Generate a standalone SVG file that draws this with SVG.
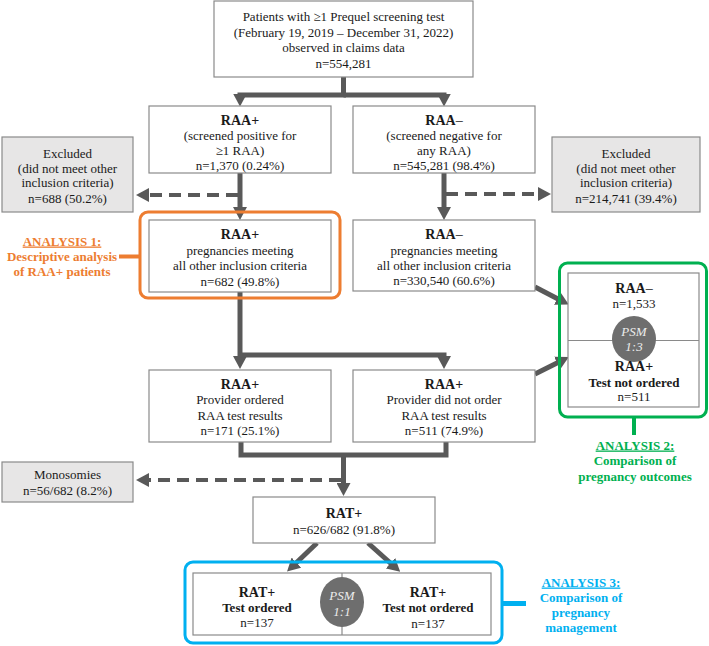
<svg xmlns="http://www.w3.org/2000/svg" width="709" height="646" viewBox="0 0 709 646">
<defs>
<style>
.box{fill:#fff;stroke:#8a8a8a;stroke-width:1.2}
.ex{fill:#e7e6e6;stroke:#8a8a8a;stroke-width:1.2}
text{font-family:"Liberation Serif","Times New Roman",serif;font-size:13px;fill:#1a1a1a;text-anchor:middle}
.t{font-size:14px;font-weight:bold}
.b{font-weight:bold}
.n{font-weight:normal}
.c{fill:none;stroke:#595959;stroke-width:5;stroke-linejoin:miter}
.d{fill:none;stroke:#595959;stroke-width:4;stroke-dasharray:12 7}
.psm{fill:#6e6e6e}
.pt{fill:#ececec;font-style:italic}
.or{fill:#ed7d31;font-weight:bold}
.gr{fill:#00b050;font-weight:bold}
.bl{fill:#00b0f0;font-weight:bold}
.u{text-decoration:underline}
</style>
<marker id="ah" viewBox="0 0 13 14" refX="2" refY="7" markerWidth="13" markerHeight="14" markerUnits="userSpaceOnUse" orient="auto">
<path d="M0,0 L13,7 L0,14 z" fill="#595959"/>
</marker>
</defs>

<g id="connectors">
<path class="c" d="M343.5,77 V95 H240 V95.5" marker-end="url(#ah)"/>
<path class="c" d="M343.5,95 H444 V95.5" marker-end="url(#ah)"/>
<path class="c" d="M240,173 V209" marker-end="url(#ah)"/>
<path class="c" d="M444,173 V209" marker-end="url(#ah)"/>
<path class="d" d="M238,195 H147" marker-end="url(#ah)"/>
<path class="d" d="M446,194 H540" marker-end="url(#ah)"/>
<path class="c" d="M240,292 V358" marker-end="url(#ah)"/>
<path class="c" d="M240,355 H444 V358" marker-end="url(#ah)"/>
<path class="c" d="M535,287 L559,299.5" marker-end="url(#ah)"/>
<path class="c" d="M535,374 L559,362" marker-end="url(#ah)"/>
<path class="c" d="M241,442 V455 H446 V442"/>
<path class="c" d="M343.5,455 V485" marker-end="url(#ah)"/>
<path class="d" d="M341,480 H147" marker-end="url(#ah)"/>
<path class="c" d="M317,543 L295,564" marker-end="url(#ah)"/>
<path class="c" d="M368,543 L392,564.5" marker-end="url(#ah)"/>
</g>

<g id="n-top">
<rect class="box" x="214" y="1" width="259" height="76"/>
<text x="343.5" y="20.5">Patients with ≥1 Prequel screening test</text>
<text x="343.5" y="36.5">(February 19, 2019 – December 31, 2022)</text>
<text x="343.5" y="52">observed in claims data</text>
<text x="343.5" y="67.5">n=554,281</text>
</g>

<g id="n-raapos">
<rect class="box" x="149" y="106" width="182" height="67"/>
<text class="t" x="240" y="125">RAA+</text>
<text x="240" y="139.5">(screened positive for</text>
<text x="240" y="154.5">≥1 RAA)</text>
<text x="240" y="169.5">n=1,370 (0.24%)</text>
</g>

<g id="n-raaneg">
<rect class="box" x="353" y="106" width="182" height="67"/>
<text class="t" x="444" y="125">RAA<tspan class="n">–</tspan></text>
<text x="444" y="139.5">(screened negative for</text>
<text x="444" y="154.5">any RAA)</text>
<text x="444" y="169.5">n=545,281 (98.4%)</text>
</g>

<g id="n-excl-left">
<rect class="ex" x="2" y="137" width="131" height="75"/>
<text x="67.5" y="157.5">Excluded</text>
<text x="67.5" y="172.5">(did not meet other</text>
<text x="67.5" y="187">inclusion criteria)</text>
<text x="67.5" y="202.5">n=688 (50.2%)</text>
</g>

<g id="n-excl-right">
<rect class="ex" x="552" y="137" width="148" height="75"/>
<text x="626" y="157.5">Excluded</text>
<text x="626" y="172.5">(did not meet other</text>
<text x="626" y="187">inclusion criteria)</text>
<text x="626" y="202.5">n=214,741 (39.4%)</text>
</g>

<g id="analysis1">
<rect x="140" y="212" width="200" height="86" rx="8" fill="none" stroke="#ed7d31" stroke-width="3"/>
<path d="M119,256.5 H140" stroke="#ed7d31" stroke-width="4"/>
<text class="or u" x="62" y="245.5">ANALYSIS 1:</text>
<text class="or" x="62" y="260.5">Descriptive analysis</text>
<text class="or" x="62" y="275.5">of RAA+ patients</text>
</g>

<g id="n-raapos-preg">
<rect class="box" x="149" y="220" width="182" height="72"/>
<text class="t" x="240" y="239">RAA+</text>
<text x="240" y="254.5">pregnancies meeting</text>
<text x="240" y="269.5">all other inclusion criteria</text>
<text x="240" y="285.5">n=682 (49.8%)</text>
</g>

<g id="n-raaneg-preg">
<rect class="box" x="353" y="220" width="182" height="71"/>
<text class="t" x="444" y="239">RAA<tspan class="n">–</tspan></text>
<text x="444" y="254.5">pregnancies meeting</text>
<text x="444" y="269.5">all other inclusion criteria</text>
<text x="444" y="285">n=330,540 (60.6%)</text>
</g>

<g id="analysis2">
<rect x="559.5" y="263" width="147" height="154" rx="8" fill="none" stroke="#00b050" stroke-width="3"/>
<rect class="box" x="568" y="273" width="131" height="134"/>
<path d="M568,340.5 H699" stroke="#8a8a8a" stroke-width="1.2"/>
<text class="t" x="634" y="293">RAA<tspan class="n">–</tspan></text>
<text x="634" y="307.5">n=1,533</text>
<ellipse class="psm" cx="634" cy="339" rx="22" ry="23"/>
<text class="pt" x="634" y="335.5">PSM</text>
<text class="pt" x="634" y="350.5">1:3</text>
<text class="t" x="634" y="371">RAA+</text>
<text class="b" x="634" y="386.5">Test not ordered</text>
<text x="634" y="400.5">n=511</text>
<path d="M634,417 V435" stroke="#00b050" stroke-width="4"/>
<text class="gr u" x="635" y="449.5">ANALYSIS 2:</text>
<text class="gr" x="635" y="465">Comparison of</text>
<text class="gr" x="635" y="480.5">pregnancy outcomes</text>
</g>

<g id="n-prov-ordered">
<rect class="box" x="149" y="370" width="182" height="72"/>
<text class="t" x="240" y="389">RAA+</text>
<text x="240" y="404">Provider ordered</text>
<text x="240" y="419.5">RAA test results</text>
<text x="240" y="435">n=171 (25.1%)</text>
</g>

<g id="n-prov-notordered">
<rect class="box" x="353" y="370" width="182" height="72"/>
<text class="t" x="444" y="389">RAA+</text>
<text x="444" y="404">Provider did not order</text>
<text x="444" y="419.5">RAA test results</text>
<text x="444" y="435">n=511 (74.9%)</text>
</g>

<g id="n-monosomies">
<rect class="ex" x="2" y="462" width="131" height="40"/>
<text x="67.5" y="478.5">Monosomies</text>
<text x="67.5" y="494.5">n=56/682 (8.2%)</text>
</g>

<g id="n-ratpos">
<rect class="box" x="253" y="497" width="182" height="46"/>
<text class="t" x="344" y="518">RAT+</text>
<text x="344" y="533.5">n=626/682 (91.8%)</text>
</g>

<g id="analysis3">
<rect x="185" y="562" width="317" height="81" rx="8" fill="none" stroke="#00b0f0" stroke-width="3"/>
<rect class="box" x="193" y="573" width="298" height="62"/>
<path d="M342,573 V635" stroke="#8a8a8a" stroke-width="1.2"/>
<ellipse class="psm" cx="342" cy="602" rx="22" ry="25"/>
<text class="pt" x="342" y="600">PSM</text>
<text class="pt" x="342" y="616">1:1</text>
<text class="t" x="257" y="596.5">RAT+</text>
<text class="b" x="257" y="611.5">Test ordered</text>
<text x="257" y="627">n=137</text>
<text class="t" x="428" y="597">RAT+</text>
<text class="b" x="428" y="612">Test not ordered</text>
<text x="428" y="627.5">n=137</text>
<path d="M502,603.5 H526" stroke="#00b0f0" stroke-width="5"/>
<text class="bl u" x="581" y="586.5">ANALYSIS 3:</text>
<text class="bl" x="581" y="601.5">Comparison of</text>
<text class="bl" x="581" y="616.5">pregnancy</text>
<text class="bl" x="581" y="631.5">management</text>
</g>
</svg>
